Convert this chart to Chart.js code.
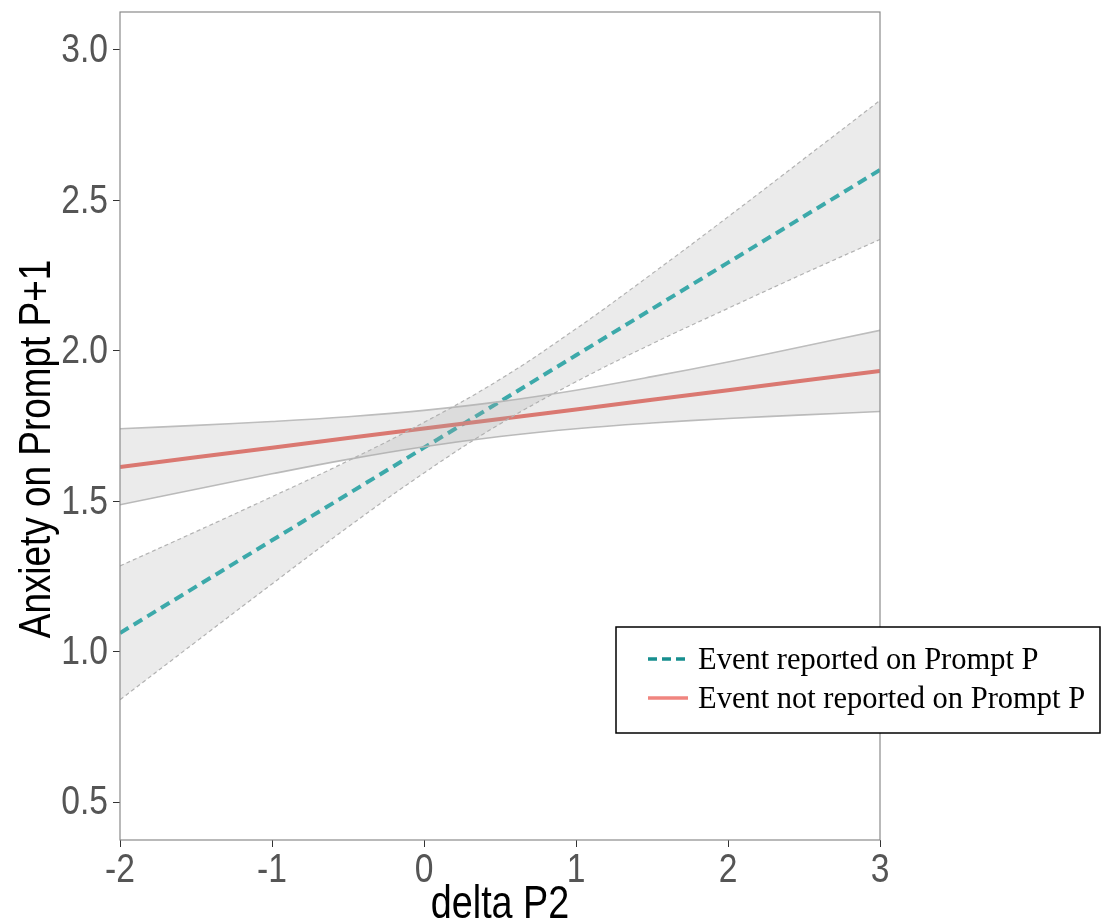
<!DOCTYPE html>
<html>
<head>
<meta charset="utf-8">
<script src="https://cdn.jsdelivr.net/npm/chart.js@4.4.1/dist/chart.umd.min.js"></script>
<style>
  body { margin: 0; background: #fff; }
  canvas { display: block; }
</style>
</head>
<body>
<canvas id="fitChart" width="1105" height="924"></canvas>
<script>
// delta P2 values where the fitted lines and confidence bands are sampled
const deltaP2 = [-2, -1.5, -1, -0.5, 0, 0.5, 1, 1.5, 2, 2.5, 3];

// Event reported on Prompt P
const reportedFit   = [1.062, 1.216, 1.370, 1.524, 1.678, 1.831, 1.985, 2.139, 2.293, 2.447, 2.601];
const reportedUpper = [1.285, 1.399, 1.515, 1.634, 1.762, 1.905, 2.073, 2.256, 2.445, 2.638, 2.832];
const reportedLower = [0.840, 1.033, 1.225, 1.414, 1.594, 1.757, 1.897, 2.023, 2.141, 2.257, 2.370];

// Event not reported on Prompt P
const notReportedFit   = [1.614, 1.646, 1.678, 1.710, 1.742, 1.773, 1.805, 1.837, 1.869, 1.901, 1.933];
const notReportedUpper = [1.741, 1.752, 1.765, 1.781, 1.802, 1.831, 1.869, 1.914, 1.963, 2.015, 2.068];
const notReportedLower = [1.488, 1.540, 1.591, 1.639, 1.681, 1.715, 1.741, 1.760, 1.775, 1.787, 1.798];

const xTicks = [-2, -1, 0, 1, 2, 3];
const yTicks = [0.5, 1.0, 1.5, 2.0, 2.5, 3.0];

const legendLabels = ['Event reported on Prompt P', 'Event not reported on Prompt P'];

const TEAL = '#1caaab';
const SALMON = '#e96a61';
const BAND = 'rgba(170,170,170,0.23)';
const SANS = '"Liberation Sans", Arial, sans-serif';
const NARROW = 0.82; // horizontal squeeze for the condensed axis text

function pts(ys) {
    return deltaP2.map((x, i) => ({ x: x, y: ys[i] }));
}

// condensed text: squeeze along the text direction
function narrowText(ctx, text, x, y, align) {
    ctx.save();
    ctx.translate(x, y);
    ctx.scale(NARROW, 1);
    ctx.textAlign = align;
    ctx.fillText(text, 0, 0);
    ctx.restore();
}

// tick labels, panel box, axis titles and the legend
const decorations = {
    id: 'decorations',
    afterDraw(chart) {
        const ctx = chart.ctx;
        const a = chart.chartArea;
        const xs = chart.scales.x;
        const ys = chart.scales.y;
        ctx.save();

        ctx.strokeStyle = '#8a8a8a';
        ctx.lineWidth = 1.2;
        ctx.strokeRect(a.left, a.top, a.right - a.left, a.bottom - a.top);

        // tick labels
        ctx.fillStyle = '#555';
        ctx.font = '41px ' + SANS;
        ctx.textBaseline = 'middle';
        yTicks.forEach(v => narrowText(ctx, v.toFixed(1), a.left - 12, ys.getPixelForValue(v) + 1, 'right'));
        ctx.textBaseline = 'top';
        xTicks.forEach(v => narrowText(ctx, String(v), xs.getPixelForValue(v), a.bottom + 10, 'center'));

        // axis titles
        ctx.fillStyle = '#000';
        ctx.font = '46px ' + SANS;
        ctx.textBaseline = 'alphabetic';
        narrowText(ctx, 'delta P2', (a.left + a.right) / 2, 918, 'center');

        ctx.font = '45px ' + SANS;
        ctx.save();
        ctx.translate(50, 449);
        ctx.rotate(-Math.PI / 2);
        narrowText(ctx, 'Anxiety on Prompt P+1', 0, 0, 'center');
        ctx.restore();

        // legend
        ctx.fillStyle = '#fff';
        ctx.fillRect(616, 627, 484, 106);
        ctx.strokeStyle = '#000';
        ctx.lineWidth = 1.5;
        ctx.strokeRect(616, 627, 484, 106);

        ctx.lineWidth = 3.5;
        ctx.strokeStyle = '#178f8f';
        ctx.setLineDash([9, 5]);
        ctx.beginPath();
        ctx.moveTo(648, 659);
        ctx.lineTo(688, 659);
        ctx.stroke();

        ctx.strokeStyle = '#f0857f';
        ctx.setLineDash([]);
        ctx.beginPath();
        ctx.moveTo(648, 698);
        ctx.lineTo(688, 698);
        ctx.stroke();

        ctx.fillStyle = '#000';
        ctx.font = '30.5px "Liberation Serif", "Times New Roman", serif';
        ctx.textAlign = 'left';
        ctx.fillText(legendLabels[0], 698, 669);
        ctx.fillText(legendLabels[1], 698, 708);

        ctx.restore();
    }
};

new Chart(document.getElementById('fitChart').getContext('2d'), {
    type: 'line',
    data: {
        datasets: [
            {
                data: pts(reportedUpper),
                borderColor: '#b3b3b3',
                borderWidth: 1.2,
                borderDash: [4, 3],
                backgroundColor: BAND,
                fill: '+1',
                tension: 0.4
            },
            {
                data: pts(reportedLower),
                borderColor: '#b3b3b3',
                borderWidth: 1.2,
                borderDash: [4, 3],
                fill: false,
                tension: 0.4
            },
            {
                data: pts(notReportedUpper),
                borderColor: '#bdbdbd',
                borderWidth: 1.6,
                backgroundColor: BAND,
                fill: '+1',
                tension: 0.4
            },
            {
                data: pts(notReportedLower),
                borderColor: '#bdbdbd',
                borderWidth: 1.6,
                fill: false,
                tension: 0.4
            },
            {
                data: pts(notReportedFit),
                borderColor: SALMON,
                borderWidth: 4,
                fill: false
            },
            {
                data: pts(reportedFit),
                borderColor: TEAL,
                borderWidth: 4,
                borderDash: [10, 6],
                fill: false
            }
        ]
    },
    options: {
        responsive: false,
        animation: false,
        devicePixelRatio: 1,
        elements: { point: { radius: 0 } },
        layout: { padding: { top: 12, right: 225, left: 0, bottom: 0 } },
        plugins: { legend: { display: false }, tooltip: { enabled: false } },
        scales: {
            x: {
                type: 'linear',
                min: -2,
                max: 3,
                afterBuildTicks: s => { s.ticks = xTicks.map(v => ({ value: v })); },
                afterFit: s => { s.height = 84; },
                ticks: { display: false },
                grid: { drawOnChartArea: false, drawTicks: true, tickLength: 7, color: '#333' },
                border: { display: false }
            },
            y: {
                type: 'linear',
                min: 0.374,
                max: 3.126,
                afterBuildTicks: s => { s.ticks = yTicks.map(v => ({ value: v })); },
                afterFit: s => { s.width = 120; },
                ticks: { display: false },
                grid: { drawOnChartArea: false, drawTicks: true, tickLength: 7, color: '#333' },
                border: { display: false }
            }
        }
    },
    plugins: [decorations]
});
</script>
</body>
</html>
